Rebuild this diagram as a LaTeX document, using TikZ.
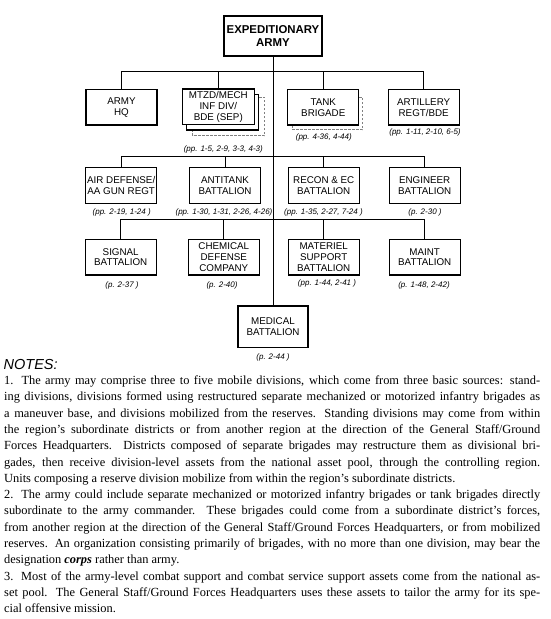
\documentclass[tikz,border=0pt]{standalone}
\usepackage{fontspec}
\setmainfont{Liberation Serif}
\setsansfont{Liberation Sans}
\usetikzlibrary{positioning}

\tikzset{
  unit/.style={draw, fill=white, line width=1.2pt, minimum width=71pt, minimum height=35.5pt,
    inner sep=1pt, align=center, font=\sffamily\fontsize{9.8}{10.8}\selectfont},
  pages/.style={inner sep=0pt, font=\sffamily\itshape\fontsize{8}{9}\selectfont},
  link/.style={line width=1pt},
  shadow/.style={draw=gray, fill=white, line width=0.9pt, dash pattern=on 2.5pt off 1.5pt},
}

\begin{document}
\begin{tikzpicture}[x=1pt,y=-1pt]
\useasboundingbox (0,0) rectangle (550,619);

% Draw the head of the chart.
\node[unit, minimum width=98pt, minimum height=40pt,
  font=\sffamily\bfseries\fontsize{11.4}{13.6}\selectfont] (army) at (273,36) {EXPEDITIONARY\\ARMY};

% First row, with the stacked boxes behind.
\draw[shadow] (192.5,97) rectangle (264.5,135.5);
\draw[fill=white, line width=1.2pt] (186.5,94.5) rectangle (258.5,130);
\draw[shadow] (292.5,97) rectangle (362.5,129.5);

\node[unit] (hq) at (121.5,107.3) {ARMY\\HQ};
\node[unit, minimum width=72pt] (mech) at (218.3,106.8) {MTZD/MECH\\INF DIV/\\BDE (SEP)};
\node[unit] (tank) at (323.3,107.3) {TANK\\BRIGADE};
\node[unit] (art) at (423.7,107.3) {ARTILLERY\\REGT/BDE};

% Second row.
\node[unit, minimum height=36pt] (airdef) at (121.2,185.3) {AIR DEFENSE/\\AA GUN REGT};
\node[unit, minimum height=36pt] (atk) at (225,185.3) {ANTITANK\\BATTALION};
\node[unit, minimum height=36pt] (recon) at (323.7,185.3) {RECON \& EC\\BATTALION};
\node[unit, minimum height=36pt] (eng) at (424.7,185.3) {ENGINEER\\BATTALION};

% Third row.
\node[unit] (sig) at (120.7,257.2) {SIGNAL\\BATTALION};
\node[unit] (chem) at (223.8,257.2) {CHEMICAL\\DEFENSE\\COMPANY};
\node[unit] (mat) at (323.7,257.2) {MATERIEL\\SUPPORT\\BATTALION};
\node[unit] (maint) at (424.7,257.2) {MAINT\\BATTALION};

% Medical battalion at the foot of the trunk.
\node[unit, minimum width=70pt, minimum height=41.5pt] (med) at (273,326.7) {MEDICAL\\BATTALION};

% Draw trunk and the three buses.
\coordinate (bus1) at (0,71.5);
\coordinate (bus2) at (0,156.8);
\coordinate (bus3) at (0,219.3);

\draw[link] (army.south) -- (med.north);

\draw[link] (hq.north) |- (bus1 -| art.north) -- (art.north);
\draw[link] (mech.north) -- (mech.north |- bus1);
\draw[link] (tank.north) -- (tank.north |- bus1);

\draw[link] (airdef.north) |- (bus2 -| eng.north) -- (eng.north);
\draw[link] (atk.north) -- (atk.north |- bus2);
\draw[link] (recon.north) -- (recon.north |- bus2);

\draw[link] (sig.north) |- (bus3 -| maint.north) -- (maint.north);
\draw[link] (chem.north) -- (chem.north |- bus3);
\draw[link] (mat.north) -- (mat.north |- bus3);

% Page references.
\node[pages] (pmech) at (223.3,149) {(pp. 1-5, 2-9, 3-3, 4-3)};
\node[pages] (ptank) at (323.8,137.7) {(pp. 4-36, 4-44)};
\node[pages] (part) at (425,132.5) {(pp. 1-11, 2-10, 6-5)};

\node[pages] (pairdef) at (121.7,212) {(pp. 2-19, 1-24 )};
\node[pages] (patk) at (224,212) {(pp. 1-30, 1-31, 2-26, 4-26)};
\node[pages] (precon) at (323.5,212) {(pp. 1-35, 2-27, 7-24 )};
\node[pages] (peng) at (425,212) {(p. 2-30 )};

\node[pages] (psig) at (122,285) {(p. 2-37 )};
\node[pages] (pchem) at (222,285) {(p. 2-40)};
\node[pages] (pmat) at (327,283.5) {(pp. 1-44, 2-41 )};
\node[pages] (pmaint) at (424,285) {(p. 1-48, 2-42)};

\node[pages] (pmed) at (273,357) {(p. 2-44 )};

% Notes under the chart.
\node[anchor=base west, inner sep=0pt,
  font=\sffamily\itshape\fontsize{14.5}{16}\selectfont] (notes) at (3.5,369) {NOTES:};

\node[anchor=base west, inner sep=0pt, font=\fontsize{12.4}{16.3}\selectfont] (text) at (4,384.5)
{\parbox[t]{536pt}{\parindent=0pt \tolerance=9999 \hyphenpenalty=10000 \exhyphenpenalty=10000
1. The army may comprise three to five mobile divisions, which come from three basic sources: stand-\linebreak
ing divisions, divisions formed using restructured separate mechanized or motorized infantry brigades as\linebreak
a maneuver base, and divisions mobilized from the reserves. Standing divisions may come from within\linebreak
the region's subordinate districts or from another region at the direction of the General Staff/Ground\linebreak
Forces Headquarters. Districts composed of separate brigades may restructure them as divisional bri-\linebreak
gades, then receive division-level assets from the national asset pool, through the controlling region.\linebreak
Units composing a reserve division mobilize from within the region's subordinate districts.\par
2. The army could include separate mechanized or motorized infantry brigades or tank brigades directly\linebreak
subordinate to the army commander. These brigades could come from a subordinate district's forces,\linebreak
from another region at the direction of the General Staff/Ground Forces Headquarters, or from mobilized\linebreak
reserves. An organization consisting primarily of brigades, with no more than one division, may bear the\linebreak
designation \textbf{\textit{corps}} rather than army.\par
3. Most of the army-level combat support and combat service support assets come from the national as-\linebreak
set pool. The General Staff/Ground Forces Headquarters uses these assets to tailor the army for its spe-\linebreak
cial offensive mission.}};

\end{tikzpicture}
\end{document}
